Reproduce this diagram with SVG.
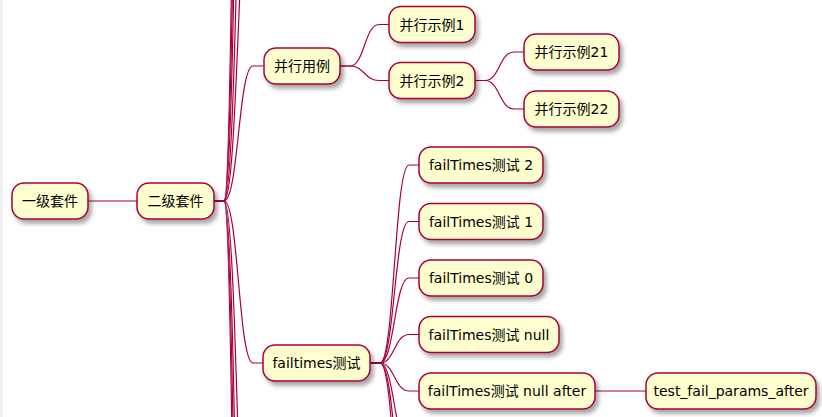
<svg xmlns="http://www.w3.org/2000/svg" width="822" height="417" viewBox="0 0 822 417">
<style>
.n rect{fill:#FEFECE;stroke:#A80036;stroke-width:1.5;filter:url(#sh)}
.n text{font-family:"DejaVu Sans","Noto Sans CJK SC",sans-serif;font-size:14px;fill:#000;text-anchor:middle}
#links path{fill:none;stroke:#A80036;stroke-width:1.2}
</style>
<defs>
<filter id="sh" x="-20%" y="-30%" width="140%" height="170%">
<feDropShadow dx="3" dy="4" stdDeviation="2.2" flood-color="#000" flood-opacity="0.35"/>
</filter>
</defs>
<rect x="0" y="0" width="822" height="417" fill="#fff"/>
<rect x="0" y="0" width="3" height="417" fill="#efefef"/>
<g id="links">
<path d="M88 201H137"/>
<path d="M214 201H224C238.5 201 238.5 66 253 66H263"/>
<path d="M214 201H224C238.5 201 238.5 363 253 363H263"/>
<path d="M214 201H224C238.5 201 238.5 -150 253 -150H263"/>
<path d="M214 201H224C238.5 201 238.5 -400 253 -400H263"/>
<path d="M214 201H224C238.5 201 238.5 -800 253 -800H263"/>
<path d="M214 201H224C238.5 201 238.5 -1200 253 -1200H263"/>
<path d="M214 201H224C238.5 201 238.5 -1700 253 -1700H263"/>
<path d="M214 201H224C238.5 201 238.5 700 253 700H263"/>
<path d="M214 201H224C238.5 201 238.5 1100 253 1100H263"/>
<path d="M214 201H224C238.5 201 238.5 1500 253 1500H263"/>
<path d="M214 201H224C238.5 201 238.5 2000 253 2000H263"/>
<path d="M340 66H350C364.5 66 364.5 24.5 379 24.5H389"/>
<path d="M340 66H350C364.5 66 364.5 80.5 379 80.5H389"/>
<path d="M475 80.5H485C499.5 80.5 499.5 52 514 52H524"/>
<path d="M475 80.5H485C499.5 80.5 499.5 109 514 109H524"/>
<path d="M370 363H380C394.5 363 394.5 165 409 165H419"/>
<path d="M370 363H380C394.5 363 394.5 221.5 409 221.5H419"/>
<path d="M370 363H380C394.5 363 394.5 278 409 278H419"/>
<path d="M370 363H380C394.5 363 394.5 334.5 409 334.5H419"/>
<path d="M370 363H380C394.5 363 394.5 391 409 391H419"/>
<path d="M370 363H380C394.5 363 394.5 447.5 409 447.5H419"/>
<path d="M370 363H380C394.5 363 394.5 504 409 504H419"/>
<path d="M370 363H380C394.5 363 394.5 560.5 409 560.5H419"/>
<path d="M595 391H646"/>
</g>
<g id="n1" class="n"><rect x="12" y="183" width="76" height="36" rx="12"/><text x="50" y="206">一级套件</text></g>
<g id="n2" class="n"><rect x="137" y="183" width="77" height="36" rx="12"/><text x="175.5" y="206">二级套件</text></g>
<g id="n3" class="n"><rect x="264" y="48" width="76" height="36" rx="12"/><text x="302" y="71">并行用例</text></g>
<g id="n4" class="n"><rect x="389" y="6.5" width="86" height="36" rx="12"/><text x="432" y="29.5">并行示例1</text></g>
<g id="n5" class="n"><rect x="389" y="62.5" width="86" height="36" rx="12"/><text x="432" y="85.5">并行示例2</text></g>
<g id="n6" class="n"><rect x="524" y="34" width="95" height="36" rx="12"/><text x="571.5" y="57">并行示例21</text></g>
<g id="n7" class="n"><rect x="524" y="91" width="95" height="36" rx="12"/><text x="571.5" y="114">并行示例22</text></g>
<g id="n8" class="n"><rect x="263" y="345" width="107" height="36" rx="12"/><text x="316.5" y="368">failtimes测试</text></g>
<g id="n9" class="n"><rect x="419" y="147" width="124" height="36" rx="12"/><text x="481" y="170">failTimes测试 2</text></g>
<g id="n10" class="n"><rect x="419" y="203.5" width="124" height="36" rx="12"/><text x="481" y="226.5">failTimes测试 1</text></g>
<g id="n11" class="n"><rect x="419" y="260" width="124" height="36" rx="12"/><text x="481" y="283">failTimes测试 0</text></g>
<g id="n12" class="n"><rect x="419" y="316.5" width="140" height="36" rx="12"/><text x="489" y="339.5">failTimes测试 null</text></g>
<g id="n13" class="n"><rect x="419" y="373" width="176" height="36" rx="12"/><text x="507" y="396">failTimes测试 null after</text></g>
<g id="n14" class="n"><rect x="646" y="373" width="170" height="36" rx="12"/><text x="731" y="396">test_fail_params_after</text></g>
</svg>
